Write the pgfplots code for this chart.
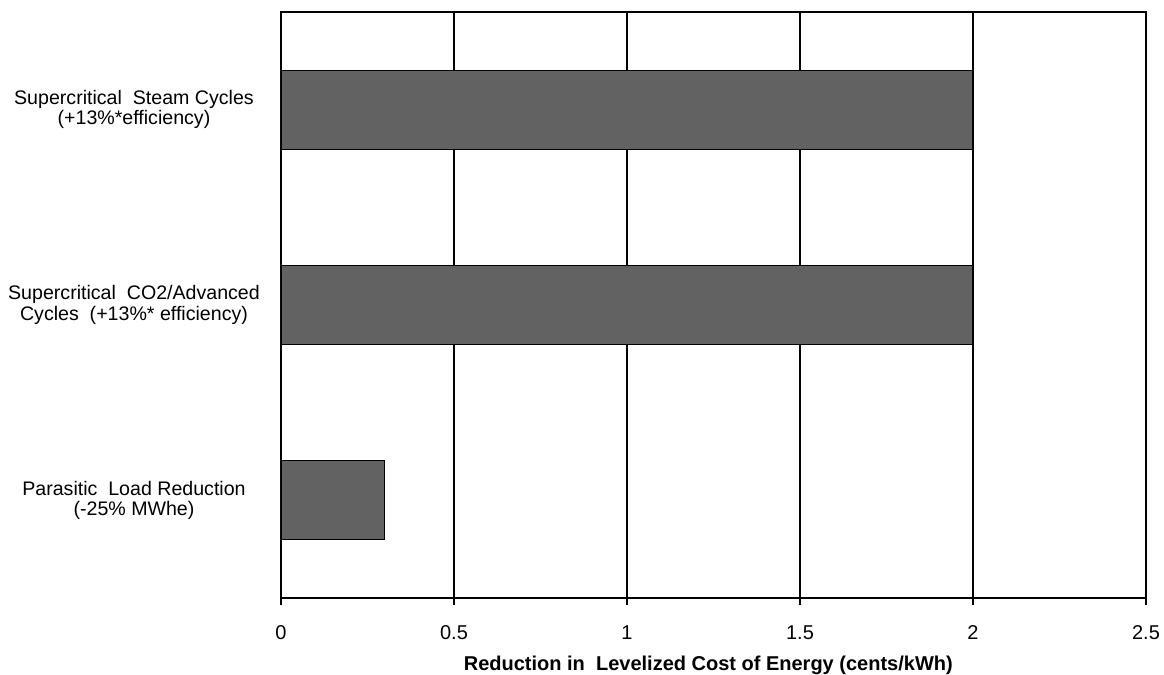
\documentclass[border=0pt]{standalone}
\usepackage{fontspec}
\setmainfont{Liberation Sans}
\usepackage{pgfplots}
\pgfplotsset{compat=1.18}
\definecolor{barfill}{RGB}{98,98,98}
\begin{document}
\fontsize{9.8}{10.2}\selectfont
\begin{tikzpicture}
\path[use as bounding box] (-140.5pt,-38.5pt) rectangle (441.5pt,299pt);
\begin{axis}[
  at={(0,0)}, anchor=south west,
  scale only axis, width=432.5pt, height=293pt,
  xbar, bar width=39.5pt,
  xmin=0, xmax=2.5, ymin=0.5, ymax=3.5,
  xtick={0,0.5,1,1.5,2,2.5},
  xticklabels={0,0.5,1,1.5,2,2.5},
  xtick pos=bottom, tick align=outside,
  major tick length=3.5pt,
  xmajorgrids, major grid style={black, line width=0.75pt},
  ytick={1,2,3},
  yticklabels={{Parasitic\ \ Load Reduction\\(-25\% MWhe)},{Supercritical\ \ CO2/Advanced\\Cycles\ \ (+13\%* efficiency)},{Supercritical\ \ Steam Cycles\\(+13\%*efficiency)}},
  ytick style={draw=none},
  minor ytick={0.5,1.5,2.5,3.5},
  minor tick length=3.5pt,
  ytick pos=left,
  yminorticks=true,
  minor tick style={black, line width=0.75pt},
  every tick/.style={black, line width=0.75pt},
  axis line style={black, line width=0.75pt},
  /pgf/number format/assume math mode=true,
  yticklabel style={anchor=center, align=center, xshift=-70pt, font=\fontsize{9.8}{10.2}\selectfont},
  xticklabel style={yshift=-7pt, font=\fontsize{10}{12}\selectfont},
  xlabel={\textbf{Reduction in\ \ Levelized Cost of Energy (cents/kWh)}},
  xlabel style={at={(axis description cs:0.494,0)}, anchor=center, yshift=-33.5pt, font=\fontsize{10}{12}\selectfont},
]
\addplot[fill=barfill, draw=black, line width=0.6pt] coordinates {(0.3,1) (2,2) (2,3)};
\end{axis}
\end{tikzpicture}
\end{document}
